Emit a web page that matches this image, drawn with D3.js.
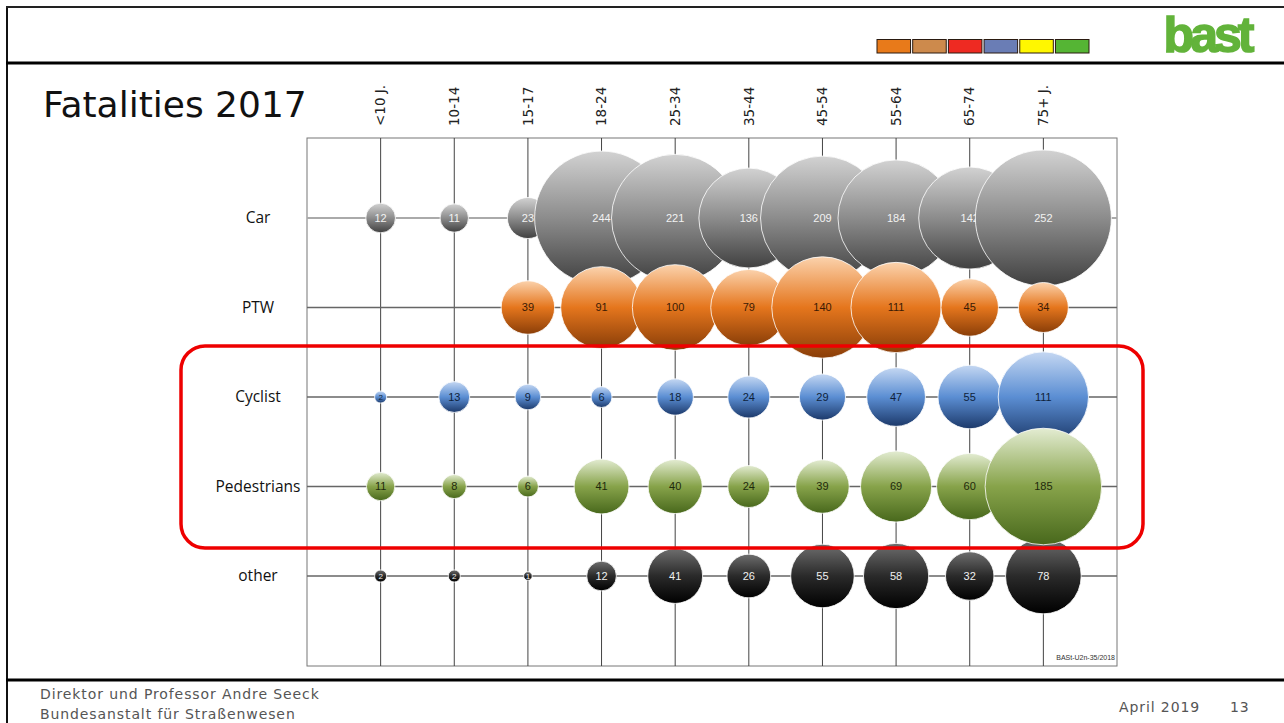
<!DOCTYPE html>
<html>
<head>
<meta charset="utf-8">
<script src="https://cdn.jsdelivr.net/npm/d3@7"></script>
<style>
  html, body { margin: 0; padding: 0; background: #fff; }
  svg { display: block; }
</style>
</head>
<body>
<svg width="1284" height="723"></svg>
<script>
const ageGroups = ['<10 J.', '10-14', '15-17', '18-24', '25-34', '35-44', '45-54', '55-64', '65-74', '75+ J.']
const modes = ['Car', 'PTW', 'Cyclist', 'Pedestrians', 'other']
const car = [12, 11, 23, 244, 221, 136, 209, 184, 142, 252]
const ptw = [null, null, 39, 91, 100, 79, 140, 111, 45, 34]
const cyclist = [2, 13, 9, 6, 18, 24, 29, 47, 55, 111]
const pedestrians = [11, 8, 6, 41, 40, 24, 39, 69, 60, 185]
const other = [2, 2, 1, 12, 41, 26, 55, 58, 32, 78]
const legendColors = ['#e87a1a', '#cd8a4c', '#ee2a22', '#6a7db5', '#fff700', '#55b534']

const seriesValues = { Car: car, PTW: ptw, Cyclist: cyclist, Pedestrians: pedestrians, other: other }

// gradient stops and label colour for each mode
const styles = {
  Car: { stops: ['#d2d2d2', '#8c8c8c', '#404040'], text: '#f2f2f2' },
  PTW: { stops: ['#fbd2ac', '#e5761d', '#8a3e08'], text: '#3b1a04' },
  Cyclist: { stops: ['#c4d7f2', '#5b8ed3', '#1c396a'], text: '#0f1f3a' },
  Pedestrians: { stops: ['#e3ecd2', '#87a34a', '#48681c'], text: '#1f2a0c' },
  other: { stops: ['#6e6e6e', '#2a2a2a', '#000000'], text: '#f0f0f0' }
}

const svg = d3.select('svg')
const plot = { left: 307, right: 1117, top: 138, bottom: 666 }

const x = d3.scalePoint().domain(ageGroups).range([plot.left, plot.right]).padding(1)
const y = d3.scalePoint().domain(modes).range([128.5, 665.5]).padding(1)
const r = d3.scaleSqrt().domain([0, 252]).range([0, 68])

// slide frame
svg.append('line').attr('x1', 7).attr('x2', 7).attr('y1', 6).attr('y2', 723)
  .attr('stroke', '#111').attr('stroke-width', 2)
svg.append('line').attr('x1', 6).attr('x2', 1284).attr('y1', 7).attr('y2', 7)
  .attr('stroke', '#222').attr('stroke-width', 2)
svg.append('line').attr('x1', 6).attr('x2', 1284).attr('y1', 63).attr('y2', 63)
  .attr('stroke', '#000').attr('stroke-width', 3)
svg.append('line').attr('x1', 6).attr('x2', 1284).attr('y1', 680).attr('y2', 680)
  .attr('stroke', '#000').attr('stroke-width', 3)

// colour strip in the header
const legendX = d3.scaleBand().domain(d3.range(legendColors.length)).range([877, 1089]).paddingInner(0.06)
svg.append('g').selectAll('rect')
  .data(legendColors)
  .enter().append('rect')
  .attr('x', (d, i) => legendX(i))
  .attr('y', 39.5)
  .attr('width', legendX.bandwidth())
  .attr('height', 13.5)
  .attr('fill', d => d)
  .attr('stroke', '#2a1a10')
  .attr('stroke-width', 1)

svg.append('text')
  .attr('x', 1207).attr('y', 52)
  .attr('text-anchor', 'middle')
  .attr('font-family', 'Liberation Sans, Arial, sans-serif')
  .attr('font-weight', 'bold')
  .attr('font-size', 50)
  .attr('letter-spacing', -4)
  .attr('fill', '#62b33a')
  .attr('stroke', '#62b33a')
  .attr('stroke-width', 1.5)
  .text('bast')

svg.append('text')
  .attr('x', 43).attr('y', 117)
  .attr('font-family', 'DejaVu Sans, Verdana, sans-serif')
  .attr('font-size', 36)
  .attr('fill', '#111')
  .text('Fatalities 2017')

// gradients
const defs = svg.append('defs')
modes.forEach(m => {
  const grad = defs.append('linearGradient')
    .attr('id', 'grad-' + m)
    .attr('x1', 0).attr('y1', 0).attr('x2', 0).attr('y2', 1)
  styles[m].stops.forEach((c, i) => {
    grad.append('stop').attr('offset', i / (styles[m].stops.length - 1)).attr('stop-color', c)
  })
})

// plot frame and grid
const g = svg.append('g')
g.append('rect')
  .attr('x', plot.left).attr('y', plot.top)
  .attr('width', plot.right - plot.left).attr('height', plot.bottom - plot.top)
  .attr('fill', 'none').attr('stroke', '#777').attr('stroke-width', 1)

g.append('g').selectAll('line')
  .data(ageGroups)
  .enter().append('line')
  .attr('x1', d => x(d)).attr('x2', d => x(d))
  .attr('y1', plot.top).attr('y2', plot.bottom)
  .attr('stroke', '#444').attr('stroke-width', 1)

g.append('g').selectAll('line')
  .data(modes)
  .enter().append('line')
  .attr('x1', plot.left).attr('x2', plot.right)
  .attr('y1', d => y(d)).attr('y2', d => y(d))
  .attr('stroke', d => d === 'Car' ? '#aaa' : '#666')
  .attr('stroke-width', d => d === 'Car' ? 2 : 1.3)

// column labels
g.append('g').selectAll('text')
  .data(ageGroups)
  .enter().append('text')
  .attr('transform', d => 'translate(' + x(d) + ',126) rotate(-90)')
  .attr('dy', '0.35em')
  .attr('font-family', 'DejaVu Sans, Verdana, sans-serif')
  .attr('font-size', 13.5)
  .attr('fill', '#222')
  .text(d => d)

// row labels
g.append('g').selectAll('text')
  .data(modes)
  .enter().append('text')
  .attr('x', 258)
  .attr('y', d => y(d))
  .attr('dy', '0.35em')
  .attr('text-anchor', 'middle')
  .attr('font-family', 'Open Sans, Liberation Sans, sans-serif')
  .attr('font-size', 15.5)
  .attr('fill', '#111')
  .text(d => d)

// bubbles, 'other' first so the rows above sit on top of it
const drawOrder = ['other', 'Car', 'PTW', 'Cyclist', 'Pedestrians']
const bubbles = []
drawOrder.forEach(m => {
  seriesValues[m].forEach((v, i) => {
    if (v != null) bubbles.push({ mode: m, age: ageGroups[i], value: v })
  })
})

const cell = g.append('g').selectAll('g')
  .data(bubbles)
  .enter().append('g')

cell.append('circle')
  .attr('cx', d => x(d.age))
  .attr('cy', d => y(d.mode))
  .attr('r', d => r(d.value))
  .attr('fill', d => 'url(#grad-' + d.mode + ')')
  .attr('stroke', '#fff')
  .attr('stroke-opacity', 0.8)
  .attr('stroke-width', 1)

cell.append('text')
  .attr('x', d => x(d.age))
  .attr('y', d => y(d.mode))
  .attr('dy', '0.35em')
  .attr('text-anchor', 'middle')
  .attr('font-family', 'Liberation Sans Narrow, Liberation Sans, sans-serif')
  .attr('font-size', d => d.value < 5 ? 8 : 11)
  .attr('fill', d => styles[d.mode].text)
  .text(d => d.value)

g.append('text')
  .attr('x', 1115).attr('y', 660)
  .attr('text-anchor', 'end')
  .attr('font-family', 'Liberation Sans Narrow, Liberation Sans, sans-serif')
  .attr('font-size', 7)
  .attr('fill', '#333')
  .text('BASt-U2n-35/2018')

// highlight box
svg.append('rect')
  .attr('x', 181).attr('y', 346)
  .attr('width', 962).attr('height', 202)
  .attr('rx', 24)
  .attr('fill', 'none')
  .attr('stroke', '#ee0000')
  .attr('stroke-width', 3.5)

// footer
const footer = svg.append('g')
  .attr('font-family', 'DejaVu Sans, Verdana, sans-serif')
  .attr('font-size', 14)
  .attr('letter-spacing', 0.9)
  .attr('fill', '#555')
footer.append('text').attr('x', 40).attr('y', 699).text('Direktor und Professor Andre Seeck')
footer.append('text').attr('x', 40).attr('y', 719).text('Bundesanstalt für Straßenwesen')
footer.append('text').attr('x', 1119).attr('y', 712).text('April 2019')
footer.append('text').attr('x', 1230).attr('y', 712).text('13')
</script>
</body>
</html>
